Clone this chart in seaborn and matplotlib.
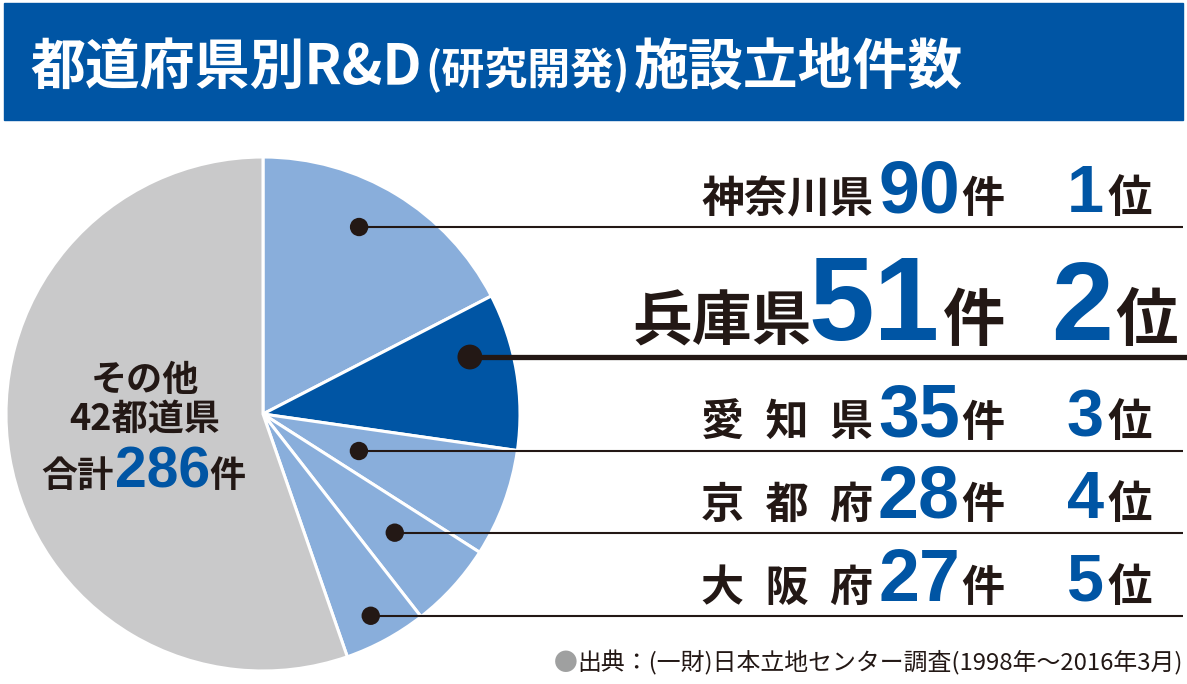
import numpy as np
import pandas as pd
import matplotlib
matplotlib.use('Agg')
import matplotlib.pyplot as plt
import seaborn as sns
from matplotlib.patches import Rectangle

sns.set_theme(style='white')
plt.rcParams['font.family'] = ['Noto Sans CJK JP', 'DejaVu Sans']

# ========================================
# Данные
# ========================================
prefectures = ['神奈川県', '兵庫県', '愛知県', '京都府', '大阪府']
name_labels = ['神奈川県', '兵庫県', '愛\u2002知\u2002県', '京\u2002都\u2002府', '大\u2002阪\u2002府']
counts = [90, 51, 35, 28, 27]
ranks = [1, 2, 3, 4, 5]
other_count = 286
other_lines = ['その他', '42都道県']
title_main = '都道府県別R&D'
title_sub = '(研究開発)'
title_tail = '施設立地件数'
source_text = '出典：(一財)日本立地センター調査(1998年～2016年3月)'

# цвета
NAVY = '#0055a4'
LIGHT = '#89aedb'
GREY = '#c9c9ca'
INK = '#231815'
NUM_FONT = ['Liberation Sans', 'DejaVu Sans']

W, H = 1187, 684
CX, CY, R = 263, 414, 257

fig = plt.figure(figsize=(W / 100, H / 100), dpi=100)
ax = fig.add_axes([0, 0, 1, 1])

# ========================================
# Заголовок
# ========================================
ax.add_patch(Rectangle((4, 3), 1179, 117, color=NAVY, zorder=0))

# ========================================
# Круговая диаграмма
# ========================================
values = counts + [other_count]
colors = [LIGHT, NAVY, LIGHT, LIGHT, LIGHT, GREY]
ax.pie(values, colors=colors, startangle=270, counterclock=True,
       center=(CX, CY), radius=R, frame=True,
       wedgeprops=dict(edgecolor='white', linewidth=2.2))

# точки-выноски внутри секторов
edges = np.cumsum([0] + values) / sum(values) * 360
anchor_frac = np.array([0.434, 0.336, 0.53, 0.485, 0.524])
anchor_r = np.array([0.818, 0.835, 0.40, 0.69, 0.89])
ang = np.deg2rad(edges[:5] + anchor_frac * np.diff(edges)[:5])
anchors = pd.DataFrame({
    'pref': prefectures,
    'x': CX + R * anchor_r * np.sin(ang),
    'y': CY - R * anchor_r * np.cos(ang),
    'dot': ['big' if r == 2 else 'small' for r in ranks],
})

for _, row in anchors.iterrows():
    big = row['dot'] == 'big'
    ax.hlines(row['y'], row['x'], 1187 if big else 1183, color=INK,
              lw=3.8 if big else 1.5, zorder=3)
sns.scatterplot(data=anchors, x='x', y='y', size='dot',
                sizes={'big': 320, 'small': 175}, color=INK,
                linewidth=0, legend=False, ax=ax, zorder=4)

# ========================================
# Подписи справа
# ========================================
name_right = [873, 812, 873, 873, 873]
num_right = [960, 940, 960, 960, 960]
ken_left = [961, 943, 961, 961, 961]
rank_right = [1104, 1113, 1104, 1104, 1104]
i_left = [1107, 1115, 1107, 1107, 1107]

for i, row in anchors.iterrows():
    big = row['dot'] == 'big'
    yb = row['y'] - (17 if big else 15)
    ax.text(name_right[i], yb, name_labels[i], ha='right', va='baseline',
            fontsize=43 if big else 31, fontweight='bold', color=INK)
    ax.text(num_right[i], yb, str(counts[i]), ha='right', va='baseline',
            fontsize=85 if big else 53, fontweight='bold', color=NAVY,
            family=NUM_FONT)
    ax.text(ken_left[i], yb, '件', ha='left', va='baseline',
            fontsize=45 if big else 31, fontweight='bold', color=INK)
    ax.text(rank_right[i], yb, str(ranks[i]), ha='right', va='baseline',
            fontsize=80 if big else 48, fontweight='bold', color=NAVY,
            family=NUM_FONT)
    ax.text(i_left[i], yb, '位', ha='left', va='baseline',
            fontsize=45 if big else 32, fontweight='bold', color=INK)

# подпись серого сектора
ax.text(145, 391, other_lines[0], ha='center', va='baseline',
        fontsize=26, fontweight='bold', color=INK)
ax.text(145, 430, other_lines[1], ha='center', va='baseline',
        fontsize=26, fontweight='bold', color=INK)
ax.text(114, 487, '合計', ha='right', va='baseline',
        fontsize=26, fontweight='bold', color=INK)
ax.text(163, 487, str(other_count), ha='center', va='baseline',
        fontsize=41, fontweight='bold', color=NAVY, family=NUM_FONT)
ax.text(209, 487, '件', ha='left', va='baseline',
        fontsize=26, fontweight='bold', color=INK)

ax.set_xlim(0, W)
ax.set_ylim(H, 0)
ax.set_aspect('auto')
ax.axis('off')

# ========================================
# Заголовок и источник (с измерением ширины)
# ========================================
renderer = fig.canvas.get_renderer()
x = 30
for txt, fs in [(title_main, 39.5), (title_sub, 31), (title_tail, 39.5)]:
    t = ax.text(x, 84, txt, ha='left', va='baseline', fontsize=fs,
                fontweight='bold', color='white')
    x = t.get_window_extent(renderer).x1 + 4

src = ax.text(1183, 670, source_text, ha='right', va='baseline',
              fontsize=17.2, color=INK)
left = src.get_window_extent(renderer).x0
ax.text(left, 670, '●', ha='right', va='baseline', fontsize=17.2,
        color='#9fa0a0')

fig.savefig('out.png', dpi=100)
